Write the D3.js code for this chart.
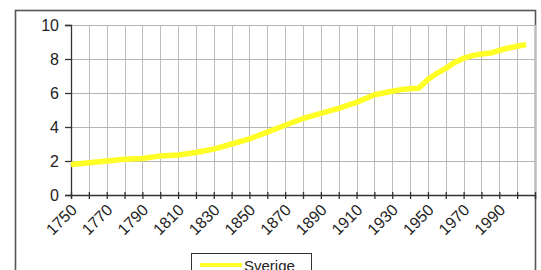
<!DOCTYPE html>
<html>
<head>
<meta charset="utf-8">
<script src="https://cdn.jsdelivr.net/npm/d3@7"></script>
<style>
  body { margin: 0; background: #fff; }
  svg { display: block; font-family: "Liberation Sans", Arial, sans-serif; }
</style>
</head>
<body>
<script>
// Population of Sweden (millions)
const years = [1750, 1760, 1770, 1780, 1790, 1800, 1810, 1820, 1830, 1840, 1850, 1860,
  1870, 1880, 1890, 1900, 1910, 1920, 1930, 1935, 1940, 1945, 1950, 1955, 1960, 1965,
  1970, 1975, 1980, 1985, 1990, 1995, 2000, 2005];
const sverige = [1.8, 1.9, 2.0, 2.1, 2.15, 2.3, 2.35, 2.5, 2.7, 3.0, 3.3, 3.7,
  4.1, 4.5, 4.8, 5.1, 5.45, 5.9, 6.1, 6.2, 6.25, 6.3, 6.8, 7.15, 7.45, 7.8,
  8.05, 8.2, 8.3, 8.35, 8.5, 8.65, 8.75, 8.85];
const yTicks = [0, 2, 4, 6, 8, 10];
const xLabels = [1750, 1770, 1790, 1810, 1830, 1850, 1870, 1890, 1910, 1930, 1950, 1970, 1990];
const seriesName = 'Sverige';

const width = 541, height = 270;
const svg = d3.select('body').append('svg')
  .attr('width', width)
  .attr('height', height);

// outer chart frame
svg.append('rect')
  .attr('x', 15.5).attr('y', 10.5)
  .attr('width', 520).attr('height', 300)
  .attr('fill', 'none')
  .attr('stroke', '#555')
  .attr('stroke-width', 1.6);

const x = d3.scaleLinear().domain([1750, 2010]).range([71, 535]);
const y = d3.scaleLinear().domain([0, 10]).range([195, 25]);

// gridlines
svg.append('g')
  .selectAll('line')
  .data(d3.range(1760, 2011, 10))
  .join('line')
  .attr('x1', d => Math.round(x(d)) + 0.5).attr('x2', d => Math.round(x(d)) + 0.5)
  .attr('y1', y(10)).attr('y2', y(0))
  .attr('stroke', '#bdbdbd');

svg.append('g')
  .selectAll('line')
  .data(yTicks.slice(1))
  .join('line')
  .attr('x1', x(1750)).attr('x2', x(2010))
  .attr('y1', d => Math.round(y(d)) + 0.5).attr('y2', d => Math.round(y(d)) + 0.5)
  .attr('stroke', '#b4b4b4');

// y axis
const yAxis = svg.append('g')
  .attr('transform', `translate(${x(1750)},0)`)
  .call(d3.axisLeft(y).tickValues(yTicks).tickSize(6).tickPadding(6));
yAxis.selectAll('text').style('font-size', '16px').attr('fill', '#222');
yAxis.selectAll('path, line').attr('stroke', '#333').attr('stroke-width', 1.3);

// x axis
const xAxis = svg.append('g')
  .attr('transform', `translate(0,${y(0)})`)
  .call(d3.axisBottom(x).tickValues(d3.range(1750, 2011, 10)).tickSize(4).tickFormat(''));
xAxis.selectAll('path, line').attr('stroke', '#333').attr('stroke-width', 1.3);
xAxis.selectAll('.tick line').attr('y1', -3);

svg.append('g')
  .selectAll('text')
  .data(xLabels)
  .join('text')
  .attr('transform', d => `translate(${x(d) - 1},${y(0) + 8}) rotate(-45)`)
  .attr('text-anchor', 'end')
  .attr('dy', '0.7em')
  .style('font-size', '16px')
  .attr('fill', '#222')
  .text(d => d);

// series line
const line = d3.line()
  .x((d, i) => x(years[i]))
  .y(d => y(d));

svg.append('path')
  .datum(sverige)
  .attr('fill', 'none')
  .attr('stroke', '#ffff26')
  .attr('stroke-width', 5.5)
  .attr('stroke-linejoin', 'round')
  .attr('d', line);

// legend
const legend = svg.append('g');
legend.append('rect')
  .attr('x', 191.5).attr('y', 253.5)
  .attr('width', 120).attr('height', 30)
  .attr('fill', '#fff')
  .attr('stroke', '#333');
legend.append('line')
  .attr('x1', 200).attr('x2', 242)
  .attr('y1', 265).attr('y2', 265)
  .attr('stroke', '#ffff26')
  .attr('stroke-width', 4);
legend.append('text')
  .attr('x', 244).attr('y', 271)
  .style('font-size', '15px')
  .attr('fill', '#222')
  .text(seriesName);
</script>
</body>
</html>
